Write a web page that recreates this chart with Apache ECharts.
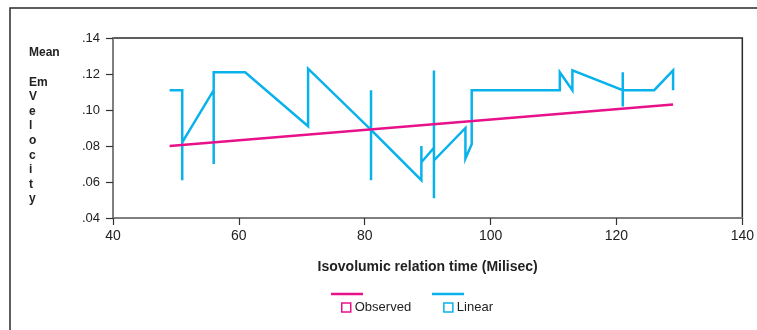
<!DOCTYPE html>
<html>
<head>
<meta charset="utf-8">
<script src="https://cdn.jsdelivr.net/npm/echarts@6/dist/echarts.min.js"></script>
<style>html,body{margin:0;padding:0;background:#fff}#c{width:757px;height:330px}</style>
</head>
<body>
<div id="c"></div>
<script>
// Data
var xTicks = [40, 60, 80, 100, 120, 140];
var yTicks = [0.04, 0.06, 0.08, 0.10, 0.12, 0.14];
var observedX = [49, 129];
var observedY = [0.080, 0.103];
var linearX = [49, 51, 51, 51, 56, 56, 56, 61, 71, 71, 81, 81, 81, 81, 89, 89, 89, 91, 91, 91, 91, 96, 96, 97, 97, 111, 111, 113, 113, 121, 121, 121, 121, 126, 129, 129];
var linearY = [0.111, 0.111, 0.061, 0.082, 0.111, 0.070, 0.121, 0.121, 0.091, 0.123, 0.089, 0.111, 0.061, 0.089, 0.061, 0.080, 0.071, 0.079, 0.122, 0.051, 0.072, 0.090, 0.073, 0.081, 0.111, 0.111, 0.121, 0.111, 0.122, 0.111, 0.121, 0.102, 0.111, 0.111, 0.122, 0.111];
var seriesNames = ['Observed', 'Linear'];
var xTitle = 'Isovolumic relation time (Milisec)';

var PINK = '#E8118A', BLUE = '#0AB2EC';
var FONT = 'Liberation Sans, Arial, sans-serif';
function zip(a, b) { return a.map(function (v, i) { return [v, b[i]]; }); }

var chart = echarts.init(document.getElementById('c'), null, { renderer: 'canvas' });
chart.setOption({
  animation: false,
  backgroundColor: '#fff',
  textStyle: { fontFamily: FONT },
  grid: { left: 113, right: 12, top: 38, bottom: 112, show: true, borderColor: '#2a2a2a', borderWidth: 1.5, backgroundColor: 'transparent' },
  xAxis: {
    type: 'value', min: xTicks[0], max: xTicks[xTicks.length - 1], interval: 20,
    axisLine: { show: true, lineStyle: { color: '#7f7f7f', width: 2 } },
    axisTick: { show: true, inside: false, length: 7, lineStyle: { color: '#333', width: 1.2 } },
    axisLabel: { color: '#222', fontSize: 14, margin: 11 },
    splitLine: { show: false },
    name: xTitle, nameLocation: 'middle', nameGap: 42,
    nameTextStyle: { color: '#222', fontSize: 14, fontWeight: 'bold' }
  },
  yAxis: {
    type: 'value', min: yTicks[0], max: yTicks[yTicks.length - 1], interval: 0.02,
    axisLine: { show: true, lineStyle: { color: '#7f7f7f', width: 2 } },
    axisTick: { show: true, inside: false, length: 7, lineStyle: { color: '#333', width: 1.2 } },
    axisLabel: { color: '#222', fontSize: 13, margin: 13, formatter: function (v) { return v.toFixed(2).replace(/^0/, ''); } },
    splitLine: { show: false }
  },
  legend: {
    left: 336, top: 296, itemGap: 32, itemWidth: 9, itemHeight: 9, icon: 'rect',
    textStyle: { color: '#222', fontSize: 13, padding: [0, 0, 0, -1] },
    data: [
      { name: seriesNames[0], itemStyle: { color: '#fff', borderColor: PINK, borderWidth: 1.5 } },
      { name: seriesNames[1], itemStyle: { color: '#fff', borderColor: BLUE, borderWidth: 1.5 } }
    ]
  },
  graphic: [
    { type: 'rect', silent: true, shape: { x: 10, y: 8, width: 760, height: 340 }, style: { fill: 'none', stroke: '#2a2a2a', lineWidth: 1.5 } },
    { type: 'line', silent: true, shape: { x1: 331, y1: 294, x2: 363, y2: 294 }, style: { stroke: PINK, lineWidth: 2.5 } },
    { type: 'line', silent: true, shape: { x1: 432, y1: 294, x2: 464, y2: 294 }, style: { stroke: BLUE, lineWidth: 2.5 } },
    { type: 'text', silent: true, left: 29, top: 47, style: { text: 'Mean', fontSize: 12, fontWeight: 'bold', fill: '#222', fontFamily: FONT } },
    { type: 'text', silent: true, left: 29, top: 75, style: { text: 'Em\nV\ne\nl\no\nc\ni\nt\ny', fontSize: 12, lineHeight: 14.6, fontWeight: 'bold', fill: '#222', fontFamily: FONT } }
  ],
  series: [
    { name: seriesNames[0], type: 'line', data: zip(observedX, observedY), showSymbol: false, symbol: 'none', lineStyle: { color: PINK, width: 2.5 }, itemStyle: { color: PINK }, z: 3 },
    { name: seriesNames[1], type: 'line', data: zip(linearX, linearY), showSymbol: false, symbol: 'none', lineStyle: { color: BLUE, width: 2.5, join: 'miter' }, itemStyle: { color: BLUE }, z: 2 }
  ]
});
</script>
</body>
</html>
